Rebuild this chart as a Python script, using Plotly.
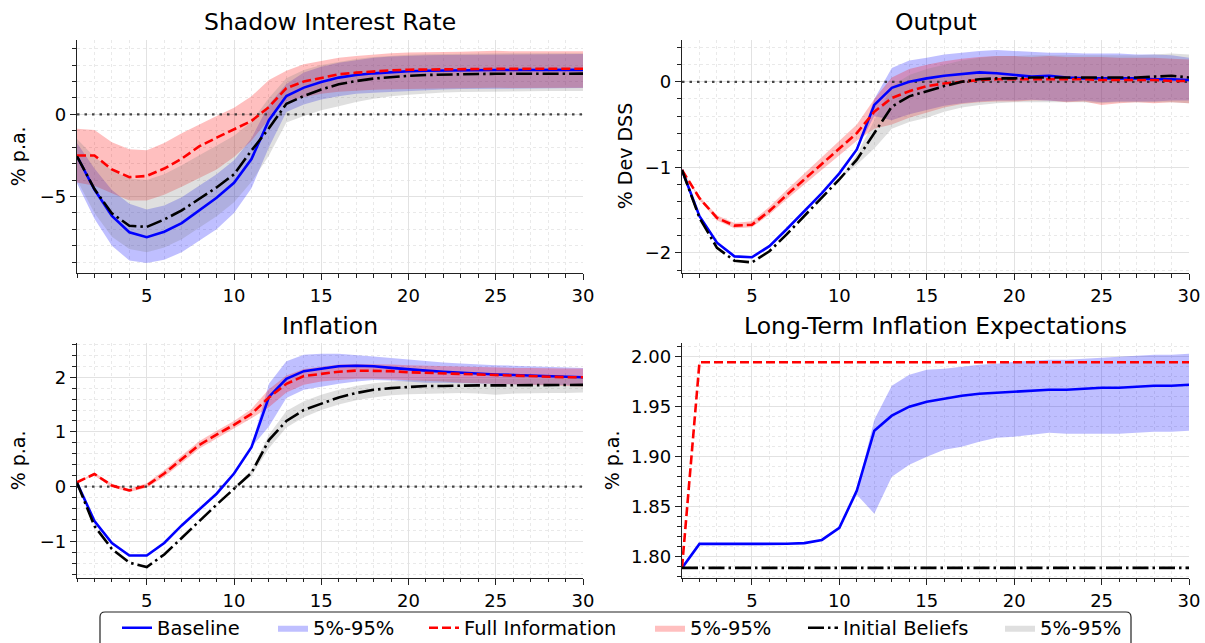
import plotly.graph_objects as go

# ---------------------------------------------------------------------------
# Impulse responses, quarters 1..30
# ---------------------------------------------------------------------------
periods = list(range(1, 31))

# Shadow interest rate (% p.a.)
sr_base = [-2.55, -4.58, -6.18, -7.18, -7.48, -7.15, -6.62, -5.85, -5.08, -4.17,
           -2.72, -0.35, 1.12, 1.63, 1.97, 2.24, 2.4, 2.5, 2.58, 2.63,
           2.66, 2.68, 2.69, 2.7, 2.7, 2.7, 2.7, 2.7, 2.71, 2.71]
sr_base_lo = [-4.2, -6.35, -8.0, -8.9, -9.05, -8.85, -8.4, -7.7, -7.0, -6.0,
              -4.5, -2.0, 0.15, 0.6, 0.9, 1.1, 1.25, 1.32, 1.38, 1.43,
              1.48, 1.52, 1.54, 1.55, 1.56, 1.56, 1.57, 1.58, 1.58, 1.6]
sr_base_hi = [-1.75, -3.3, -4.6, -5.45, -5.8, -5.55, -5.05, -4.35, -3.65, -2.8,
              -1.45, 0.6, 1.85, 2.55, 2.9, 3.15, 3.32, 3.45, 3.52, 3.58,
              3.6, 3.62, 3.63, 3.65, 3.66, 3.66, 3.67, 3.67, 3.68, 3.68]
sr_fi = [-2.5, -2.5, -3.35, -3.82, -3.75, -3.3, -2.7, -1.95, -1.42, -0.9,
         -0.4, 0.45, 1.6, 2.0, 2.24, 2.44, 2.54, 2.63, 2.68, 2.72,
         2.74, 2.75, 2.76, 2.76, 2.77, 2.77, 2.77, 2.78, 2.78, 2.78]
sr_fi_lo = [-4.15, -4.35, -4.8, -5.25, -5.25, -4.9, -4.4, -3.85, -3.35, -2.6,
            -1.6, -0.3, 0.8, 1.05, 1.25, 1.38, 1.45, 1.5, 1.53, 1.55,
            1.57, 1.58, 1.6, 1.6, 1.62, 1.6, 1.6, 1.62, 1.62, 1.62]
sr_fi_hi = [-0.88, -0.95, -1.7, -2.12, -2.18, -1.75, -1.15, -0.6, -0.1, 0.4,
            1.1, 2.1, 2.65, 3.05, 3.25, 3.45, 3.55, 3.65, 3.72, 3.77,
            3.8, 3.8, 3.82, 3.84, 3.88, 3.84, 3.82, 3.84, 3.84, 3.84]
sr_ib = [-2.55, -4.55, -6.03, -6.78, -6.85, -6.4, -5.85, -5.15, -4.45, -3.65,
         -2.2, -0.85, 0.65, 1.12, 1.52, 1.83, 2.03, 2.18, 2.28, 2.35,
         2.4, 2.43, 2.45, 2.46, 2.47, 2.47, 2.47, 2.47, 2.47, 2.48]
sr_ib_lo = [-4.0, -6.0, -7.45, -8.2, -8.4, -8.1, -7.6, -6.9, -6.2, -5.35,
            -4.1, -2.5, -0.5, -0.1, 0.25, 0.5, 0.75, 0.95, 1.1, 1.2,
            1.28, 1.33, 1.36, 1.38, 1.4, 1.4, 1.41, 1.42, 1.42, 1.43]
sr_ib_hi = [-1.5, -2.6, -3.4, -3.9, -4.0, -3.65, -3.1, -2.5, -1.9, -1.3,
            -0.45, 1.0, 2.2, 2.7, 3.0, 3.2, 3.38, 3.5, 3.58, 3.63,
            3.66, 3.68, 3.7, 3.7, 3.72, 3.72, 3.72, 3.72, 3.72, 3.72]

# Output (% deviation from deterministic steady state)
out_base = [-1.03, -1.57, -1.88, -2.04, -2.05, -1.92, -1.72, -1.51, -1.3, -1.07,
            -0.79, -0.27, -0.07, 0.0, 0.04, 0.07, 0.09, 0.11, 0.1, 0.08,
            0.06, 0.07, 0.05, 0.04, 0.04, 0.04, 0.04, 0.03, 0.03, 0.02]
out_base_lo = [-1.03, -1.57, -1.88, -2.04, -2.05, -1.92, -1.72, -1.51, -1.3, -1.07,
               -0.79, -0.4, -0.45, -0.38, -0.33, -0.28, -0.25, -0.23, -0.22, -0.22,
               -0.21, -0.22, -0.23, -0.22, -0.24, -0.23, -0.23, -0.23, -0.22, -0.22]
out_base_hi = [-1.03, -1.57, -1.88, -2.04, -2.05, -1.92, -1.72, -1.51, -1.3, -1.07,
               -0.79, -0.2, 0.16, 0.25, 0.28, 0.32, 0.34, 0.36, 0.37, 0.36,
               0.35, 0.34, 0.34, 0.33, 0.33, 0.33, 0.32, 0.32, 0.31, 0.28]
out_fi = [-1.03, -1.36, -1.59, -1.68, -1.67, -1.51, -1.32, -1.14, -0.97, -0.79,
          -0.6, -0.35, -0.19, -0.11, -0.05, -0.02, 0.0, 0.02, 0.03, 0.03,
          0.03, 0.03, 0.03, 0.03, 0.02, 0.02, 0.02, 0.02, 0.01, 0.01]
out_fi_lo = [-1.03, -1.38, -1.62, -1.71, -1.7, -1.55, -1.37, -1.2, -1.04, -0.87,
             -0.69, -0.55, -0.5, -0.42, -0.36, -0.3, -0.26, -0.24, -0.23, -0.23,
             -0.22, -0.22, -0.24, -0.23, -0.27, -0.25, -0.24, -0.25, -0.24, -0.25]
out_fi_hi = [-1.03, -1.34, -1.56, -1.65, -1.63, -1.46, -1.26, -1.07, -0.89, -0.7,
             -0.5, -0.2, 0.05, 0.15, 0.2, 0.24, 0.27, 0.29, 0.3, 0.3,
             0.29, 0.3, 0.29, 0.29, 0.29, 0.28, 0.28, 0.28, 0.27, 0.26]
out_ib = [-1.03, -1.59, -1.94, -2.09, -2.11, -1.98, -1.78, -1.57, -1.36, -1.14,
          -0.91, -0.6, -0.29, -0.17, -0.11, -0.05, 0.0, 0.03, 0.04, 0.04,
          0.05, 0.05, 0.05, 0.05, 0.05, 0.05, 0.05, 0.06, 0.07, 0.05]
out_ib_lo = [-1.03, -1.59, -1.94, -2.09, -2.11, -1.98, -1.78, -1.57, -1.36, -1.14,
             -0.97, -0.78, -0.55, -0.47, -0.42, -0.35, -0.3, -0.27, -0.25, -0.24,
             -0.24, -0.24, -0.24, -0.24, -0.25, -0.24, -0.24, -0.24, -0.24, -0.25]
out_ib_hi = [-1.03, -1.59, -1.94, -2.09, -2.11, -1.98, -1.78, -1.57, -1.36, -1.14,
             -0.85, -0.45, -0.05, 0.08, 0.15, 0.2, 0.25, 0.28, 0.3, 0.3,
             0.31, 0.31, 0.31, 0.31, 0.31, 0.31, 0.31, 0.32, 0.33, 0.32]

# Inflation (% p.a.)
inf_base = [0.07, -0.63, -1.03, -1.26, -1.26, -1.03, -0.71, -0.42, -0.13, 0.24,
            0.72, 1.64, 1.97, 2.11, 2.15, 2.2, 2.21, 2.2, 2.17, 2.14,
            2.12, 2.1, 2.08, 2.07, 2.05, 2.04, 2.03, 2.02, 2.01, 2.0]
inf_base_lo = [0.07, -0.63, -1.03, -1.26, -1.26, -1.03, -0.71, -0.42, -0.13, 0.24,
               0.72, 1.1, 1.62, 1.77, 1.83, 1.88, 1.92, 1.95, 1.94, 1.92,
               1.9, 1.9, 1.89, 1.88, 1.88, 1.87, 1.86, 1.86, 1.85, 1.85]
inf_base_hi = [0.07, -0.63, -1.03, -1.26, -1.26, -1.03, -0.71, -0.42, -0.13, 0.24,
               0.74, 1.88, 2.29, 2.41, 2.43, 2.43, 2.41, 2.38, 2.35, 2.32,
               2.29, 2.27, 2.25, 2.23, 2.22, 2.21, 2.2, 2.19, 2.18, 2.17]
inf_fi = [0.08, 0.23, 0.02, -0.07, 0.02, 0.24, 0.5, 0.76, 0.95, 1.13,
          1.33, 1.63, 1.88, 2.02, 2.06, 2.1, 2.12, 2.12, 2.11, 2.09,
          2.08, 2.07, 2.05, 2.04, 2.04, 2.03, 2.02, 2.01, 2.0, 2.0]
inf_fi_lo = [0.08, 0.2, -0.01, -0.1, -0.02, 0.18, 0.43, 0.69, 0.88, 1.06,
             1.25, 1.45, 1.72, 1.86, 1.92, 1.95, 1.97, 1.97, 1.96, 1.95,
             1.93, 1.92, 1.9, 1.89, 1.88, 1.87, 1.86, 1.85, 1.84, 1.83]
inf_fi_hi = [0.08, 0.26, 0.05, -0.04, 0.06, 0.3, 0.57, 0.83, 1.02, 1.2,
             1.42, 1.78, 2.03, 2.15, 2.19, 2.23, 2.24, 2.24, 2.23, 2.22,
             2.21, 2.2, 2.19, 2.18, 2.18, 2.17, 2.17, 2.16, 2.16, 2.16]
inf_ib = [0.07, -0.72, -1.14, -1.39, -1.47, -1.24, -0.94, -0.63, -0.33, -0.04,
          0.25, 0.85, 1.2, 1.4, 1.52, 1.63, 1.71, 1.77, 1.8, 1.82,
          1.84, 1.84, 1.85, 1.85, 1.85, 1.85, 1.86, 1.86, 1.86, 1.86]
inf_ib_lo = [0.07, -0.72, -1.14, -1.39, -1.47, -1.24, -0.94, -0.63, -0.33, -0.04,
             0.2, 0.7, 1.08, 1.27, 1.4, 1.5, 1.58, 1.63, 1.67, 1.69,
             1.7, 1.71, 1.71, 1.7, 1.68, 1.7, 1.71, 1.71, 1.71, 1.72]
inf_ib_hi = [0.07, -0.72, -1.14, -1.39, -1.47, -1.24, -0.94, -0.63, -0.33, -0.04,
             0.3, 0.95, 1.38, 1.56, 1.68, 1.77, 1.84, 1.89, 1.92, 1.95,
             1.96, 1.97, 1.97, 1.97, 1.97, 1.98, 1.98, 1.98, 1.98, 1.98]

# Long-term inflation expectations (% p.a.)
lte_base = [1.7887, 1.8127, 1.8127, 1.8127, 1.8127, 1.8127, 1.8128, 1.8135, 1.8167, 1.8287,
            1.866, 1.926, 1.941, 1.95, 1.955, 1.958, 1.961, 1.963, 1.964, 1.965,
            1.966, 1.967, 1.967, 1.968, 1.969, 1.969, 1.97, 1.971, 1.971, 1.972]
lte_base_lo = [1.7887, 1.8127, 1.8127, 1.8127, 1.8127, 1.8127, 1.8128, 1.8135, 1.8167, 1.8287,
               1.862, 1.843, 1.88, 1.892, 1.9, 1.907, 1.91, 1.915, 1.919, 1.92,
               1.922, 1.924, 1.923, 1.923, 1.923, 1.923, 1.924, 1.925, 1.925, 1.926]
lte_base_hi = [1.7887, 1.8127, 1.8127, 1.8127, 1.8127, 1.8127, 1.8128, 1.8135, 1.8167, 1.8287,
               1.866, 1.937, 1.971, 1.982, 1.987, 1.988, 1.99, 1.992, 1.993, 1.995,
               1.996, 1.997, 1.997, 1.998, 1.999, 2.0, 2.001, 2.002, 2.002, 2.003]
lte_fi = [1.7887, 1.9945, 1.9945, 1.9945, 1.9945, 1.9945, 1.9945, 1.9945, 1.9945, 1.9945,
          1.9945, 1.9945, 1.9945, 1.9945, 1.9945, 1.9945, 1.9945, 1.9945, 1.9945, 1.9945,
          1.9945, 1.9945, 1.9945, 1.9945, 1.9945, 1.9945, 1.9945, 1.9945, 1.9945, 1.9945]
lte_ib = [1.7887, 1.7887, 1.7887, 1.7887, 1.7887, 1.7887, 1.7887, 1.7887, 1.7887, 1.7887,
          1.7887, 1.7887, 1.7887, 1.7887, 1.7887, 1.7887, 1.7887, 1.7887, 1.7887, 1.7887,
          1.7887, 1.7887, 1.7887, 1.7887, 1.7887, 1.7887, 1.7887, 1.7887, 1.7887, 1.7887]

# Panel titles, axis labels and legend text
panel_titles = ["Shadow Interest Rate", "Output", "Inflation",
                "Long-Term Inflation Expectations"]
panel_ylabels = ["% p.a.", "% Dev DSS", "% p.a.", "% p.a."]
series_names = ["Baseline", "Full Information", "Initial Beliefs"]
band_name = "5%-95%"

# ---------------------------------------------------------------------------
# Styling
# ---------------------------------------------------------------------------
W, H = 1205, 643
FONT = "DejaVu Sans"
LINE_COLORS = ["#0000ff", "#ff0000", "#000000"]
BAND_COLORS = ["rgba(0,0,255,0.25)", "rgba(255,0,0,0.25)", "rgba(128,128,128,0.25)"]
DASHES = ["solid", "9px,4px", "16px,4px,2.5px,4px"]


def fx(px):
    return px / W


def fy(py):
    return 1 - py / H


# pixel boxes of the four plot areas: (left, right, top, bottom)
boxes = [(77, 583, 39.5, 273), (682, 1189, 39.5, 273),
         (77, 583, 343, 577.7), (682, 1189, 343, 577.7)]
y_ranges = [[-9.66, 4.56], [-2.234, 0.494], [-1.665, 2.625], [1.7789, 2.0137]]
y_dticks = [(5, 1), (1, 0.2), (1, 0.2), (0.05, 0.01)]
y_formats = ["", "", "", ".2f"]
zero_line = [True, True, True, False]

panel_data = [
    [(sr_base, sr_base_lo, sr_base_hi), (sr_fi, sr_fi_lo, sr_fi_hi), (sr_ib, sr_ib_lo, sr_ib_hi)],
    [(out_base, out_base_lo, out_base_hi), (out_fi, out_fi_lo, out_fi_hi), (out_ib, out_ib_lo, out_ib_hi)],
    [(inf_base, inf_base_lo, inf_base_hi), (inf_fi, inf_fi_lo, inf_fi_hi), (inf_ib, inf_ib_lo, inf_ib_hi)],
    [(lte_base, lte_base_lo, lte_base_hi), (lte_fi, lte_fi, lte_fi), (lte_ib, lte_ib, lte_ib)],
]

line_legends = ["legend", "legend3", "legend5"]
band_legends = ["legend2", "legend4", "legend6"]

fig = go.Figure()

for p, series in enumerate(panel_data):
    sfx = "" if p == 0 else str(p + 1)
    xa, ya = "x" + sfx, "y" + sfx
    first = p == 0

    # shaded 5%-95% bands first, so every line is drawn on top
    for s, (line, lo, hi) in enumerate(series):
        fig.add_trace(go.Scatter(x=periods, y=lo, xaxis=xa, yaxis=ya, mode="lines",
                                 line=dict(width=0, color=BAND_COLORS[s]),
                                 showlegend=False, hoverinfo="skip"))
        fig.add_trace(go.Scatter(x=periods, y=hi, xaxis=xa, yaxis=ya, mode="lines",
                                 line=dict(width=0, color=BAND_COLORS[s]),
                                 fill="tonexty", fillcolor=BAND_COLORS[s],
                                 name=band_name, legend=band_legends[s],
                                 showlegend=first, hoverinfo="skip"))

    if zero_line[p]:
        fig.add_trace(go.Scatter(x=[periods[0], periods[-1]], y=[0, 0], xaxis=xa, yaxis=ya,
                                 mode="lines", showlegend=False, hoverinfo="skip",
                                 line=dict(color="rgba(40,40,40,0.85)", width=2.2,
                                           dash="2.5px,5px")))

    for s, (line, lo, hi) in enumerate(series):
        fig.add_trace(go.Scatter(x=periods, y=line, xaxis=xa, yaxis=ya, mode="lines",
                                 line=dict(color=LINE_COLORS[s], width=2.6, dash=DASHES[s]),
                                 name=series_names[s], legend=line_legends[s],
                                 showlegend=first))

    left, right, top, bottom = boxes[p]
    common = dict(showline=True, linecolor="#222", linewidth=1.4, mirror=False,
                  ticks="outside", ticklen=6, tickwidth=1.3, tickcolor="#222",
                  showgrid=True, gridcolor="#e2e2e2", gridwidth=1, zeroline=False,
                  automargin=False,
                  tickfont=dict(family=FONT, size=18, color="black"))
    minor = dict(ticks="outside", ticklen=3.5, tickwidth=1, tickcolor="#222",
                 showgrid=True, gridcolor="#e9e9e9", griddash="dot", gridwidth=1)
    fig.layout["xaxis" + sfx] = dict(
        common, domain=[fx(left), fx(right)], anchor=ya, range=[1, 30],
        tick0=0, dtick=5, minor=dict(minor, tick0=0, dtick=1))
    fig.layout["yaxis" + sfx] = dict(
        common, domain=[fy(bottom), fy(top)], anchor=xa, range=y_ranges[p],
        tick0=0, dtick=y_dticks[p][0], tickformat=y_formats[p],
        minor=dict(minor, tick0=0, dtick=y_dticks[p][1]))

    # subplot title and y-axis label
    fig.add_annotation(text=panel_titles[p], xref="paper", yref="paper",
                       x=fx((left + right) / 2), y=fy(top - 17.5), xanchor="center",
                       yanchor="middle", showarrow=False,
                       font=dict(family=FONT, size=23.5, color="black"))
    label_x = [18, 625, 18, 612][p]
    fig.add_annotation(text=panel_ylabels[p], xref="paper", yref="paper",
                       x=fx(label_x), y=fy((top + bottom) / 2), xanchor="center",
                       yanchor="middle", textangle=-90, showarrow=False,
                       font=dict(family=FONT, size=19, color="black"))

# one-row legend: each entry gets its own legend box at a fixed position
entry_text_x = [157, 313, 464, 690, 843, 1040]
legend_keys = ["legend", "legend2", "legend3", "legend4", "legend5", "legend6"]
for key, tx in zip(legend_keys, entry_text_x):
    fig.layout[key] = dict(x=fx(tx - 40), xanchor="left", y=fy(628), yanchor="middle",
                           xref="container", yref="container",
                           orientation="h", bgcolor="rgba(0,0,0,0)", borderwidth=0,
                           font=dict(family=FONT, size=19.5, color="black"))

# legend frame with rounded top corners
x0, x1, y0, y1, r = 100, 1131, 612, 660, 5
frame = (f"M {fx(x0)},{fy(y1)} L {fx(x0)},{fy(y0 + r)} "
         f"Q {fx(x0)},{fy(y0)} {fx(x0 + r)},{fy(y0)} "
         f"L {fx(x1 - r)},{fy(y0)} Q {fx(x1)},{fy(y0)} {fx(x1)},{fy(y0 + r)} "
         f"L {fx(x1)},{fy(y1)} Z")
fig.add_shape(type="path", path=frame, xref="paper", yref="paper", layer="below",
              line=dict(color="#222", width=1.2), fillcolor="white")

fig.update_layout(width=W, height=H, margin=dict(l=0, r=0, t=0, b=0, autoexpand=False),
                  paper_bgcolor="white", plot_bgcolor="white",
                  font=dict(family=FONT, color="black"))

fig.write_html("out.html")
